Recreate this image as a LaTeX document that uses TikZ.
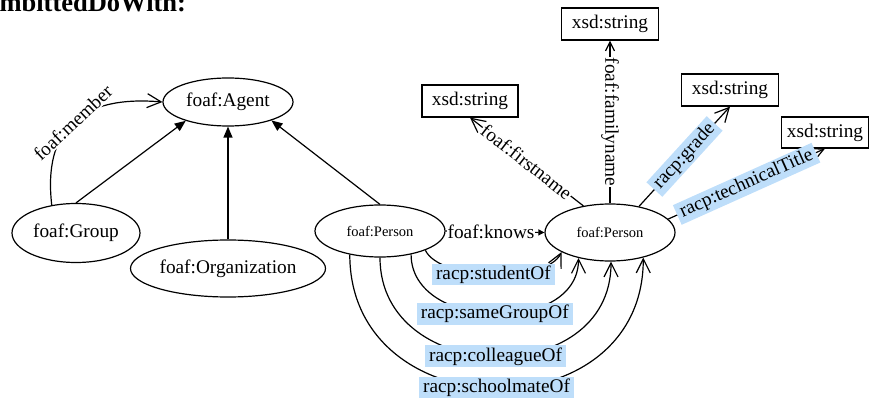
\documentclass[tikz,border=0pt]{standalone}
\usepackage{fontspec}
\setmainfont{Liberation Serif}
\usetikzlibrary{shapes.geometric,arrows.meta}
\definecolor{lblue}{RGB}{190,222,250}
\begin{document}
\begin{tikzpicture}[x=1pt,y=-1pt,
  every node/.style={font=\fontsize{19.3}{23}\selectfont},
  cls/.style={ellipse,draw,line width=1.2pt,inner sep=0pt},
  pers/.style={cls,font=\fontsize{14.5}{17}\selectfont,minimum width=130pt,minimum height=54pt},
  lit/.style={rectangle,draw,line width=1.2pt,inner sep=0pt,minimum height=32pt},
  conn/.style={line width=1.2pt},
  tri/.style={-{Triangle[length=11pt,width=9pt]}},
  barb/.style={-{Straight Barb[length=14pt,width=14pt,line width=1.2pt]}},
  wlab/.style={fill=white,inner sep=1pt},
  blab/.style={fill=lblue,inner xsep=4pt,inner ysep=2pt}
]
\useasboundingbox (0,0) rectangle (870,398);

\node[anchor=base west,font=\bfseries\fontsize{26.5}{30}\selectfont] (hdr) at (-4,12) {mbittedDoWith:};

% classes
\node[cls,minimum width=130pt,minimum height=48pt] (agent) at (228,102) {foaf:Agent};
\node[cls,minimum width=128pt,minimum height=59pt] (grp) at (76,233) {foaf:Group};
\node[cls,minimum width=195pt,minimum height=57pt] (org) at (228,268.5) {foaf:Organization};
\node[pers,minimum height=52pt] (lp) at (380,231) {foaf:Person};
\node[pers,minimum height=57pt] (rp) at (610,232.5) {foaf:Person};

% literals
\node[lit,minimum width=96pt] (s1) at (470,101) {xsd:string};
\node[lit,minimum width=97pt] (s2) at (610,24) {xsd:string};
\node[lit,minimum width=97pt] (s3) at (730,90) {xsd:string};
\node[lit,minimum width=87pt,minimum height=31pt] (s4) at (825,132.5) {xsd:string};

% subclass edges
\draw[conn,tri] (grp.north) -- (agent.-156);
\draw[conn,tri] (org.north) -- (agent.south);
\draw[conn,tri] (lp.north) -- (agent.-23);

% foaf:member
\draw[conn,barb] (grp.131) .. controls (43,130) and (80,95) .. (agent.west)
  node[pos=0.5,sloped,wlab] {foaf:member};

% foaf:knows
\draw[conn,-{Triangle[length=6pt,width=6pt]}] (lp.east) -- (rp.west)
  node[pos=0.46,wlab] {foaf:knows};

% datatype properties
\draw[conn,barb] (rp.135.5) -- (s1.south) node[midway,sloped,wlab] {foaf:firstname};
\draw[conn,-{Straight Barb[length=9pt,width=9pt,line width=1.2pt]}] (rp.north) -- (s2.south)
  node[midway,rotate=-90,wlab] {foaf:familyname};
\draw[conn,barb] (rp.42.5) -- (s3.south) node[midway,sloped,blab] {racp:grade};
\draw[conn,barb] (rp.13.6) -- (s4.south) node[midway,sloped,blab] {racp:technicalTitle};

% relations between persons
\draw[conn,barb] (lp.-23.6) .. controls +(15,31) and +(-15,31) .. (rp.-158)
  node[pos=0.5,blab] {racp:studentOf};
\draw[conn,barb] (lp.-37.5) .. controls +(0,77) and +(0,77) .. (rp.-141)
  node[pos=0.5,blab] {racp:sameGroupOf};
\draw[conn,barb] (lp.-90) .. controls +(0,129) and +(0,129) .. (rp.-88)
  node[pos=0.5,blab] {racp:colleagueOf};
\draw[conn,barb] (lp.-142) .. controls +(0,176) and +(0,176) .. (rp.-37)
  node[pos=0.5,blab] {racp:schoolmateOf};
\end{tikzpicture}
\end{document}
